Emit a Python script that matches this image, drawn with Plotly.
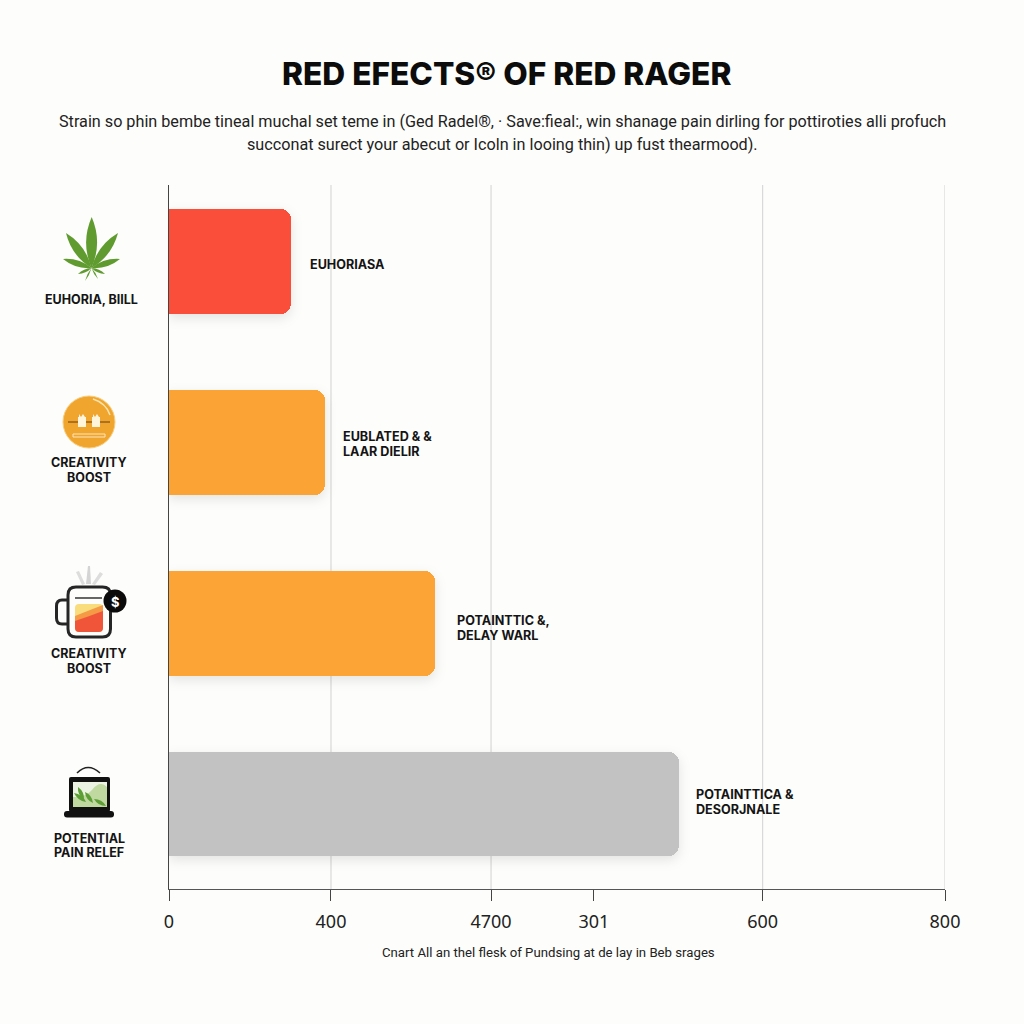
import plotly.graph_objects as go

# ---- data ----
row_labels = ["EUHORIASA", "EUBLATED &amp; &amp;<br>LAAR DIELIR", "POTAINTTIC &amp;,<br>DELAY WARL", "POTAINTTICA &amp;<br>DESORJNALE"]
bar_values = [125.5, 160.5, 274, 526]
bar_colors = ["#FA4E3B", "#FBA435", "#FCA436", "#C2C2C2"]
effect_lines = [["EUHORIA, BIILL"], ["CREATIVITY", "BOOST"], ["CREATIVITY", "BOOST"], ["POTENTIAL", "PAIN RELEF"]]
tick_positions = [0, 167, 332, 438, 612, 800]
tick_labels = ["0", "400", "4700", "301", "600", "800"]
grid_positions = [167, 332, 612, 800]
title_text = "RED EFECTS® OF RED RAGER"
subtitle_lines = [
    "Strain so phin bembe tineal muchal set teme in (Ged Radel®, · Save:fieal:, win shanage pain dirling for pottiroties alli profuch",
    "succonat surect your abecut or Icoln in looing thin) up fust thearmood).",
]
footer_text = "Cnart All an thel flesk of Pundsing at de lay in Beb srages"

W = 1024.0
def px(x): return x / W
def py(y): return 1 - y / W

BG = "#FDFDFB"
INK = "#141414"
shapes = []

def path(points_cmd, fill=None, line=None, lw=0, layer="above"):
    s = ""
    for tok in points_cmd:
        if isinstance(tok, str):
            s += tok + " "
        else:
            s += f"{px(tok[0]):.5f},{py(tok[1]):.5f} "
    shapes.append(dict(type="path", xref="paper", yref="paper", path=s.strip(),
                       fillcolor=fill if fill else "rgba(0,0,0,0)",
                       line=dict(color=line if line else "rgba(0,0,0,0)", width=lw), layer=layer))

def rect(x0, y0, x1, y1, fill=None, line=None, lw=0):
    shapes.append(dict(type="rect", xref="paper", yref="paper", x0=px(x0), x1=px(x1), y0=py(y0), y1=py(y1),
                       fillcolor=fill if fill else "rgba(0,0,0,0)",
                       line=dict(color=line if line else "rgba(0,0,0,0)", width=lw), layer="above"))

def circle(cx, cy, r, fill=None, line=None, lw=0):
    shapes.append(dict(type="circle", xref="paper", yref="paper", x0=px(cx - r), x1=px(cx + r), y0=py(cy - r), y1=py(cy + r),
                       fillcolor=fill if fill else "rgba(0,0,0,0)",
                       line=dict(color=line if line else "rgba(0,0,0,0)", width=lw), layer="above"))

def rrect_cmd(x0, y0, x1, y1, r):
    return ["M", (x0 + r, y0), "L", (x1 - r, y0), "Q", (x1, y0), (x1, y0 + r), "L", (x1, y1 - r),
            "Q", (x1, y1), (x1 - r, y1), "L", (x0 + r, y1), "Q", (x0, y1), (x0, y1 - r), "L", (x0, y0 + r),
            "Q", (x0, y0), (x0 + r, y0), "Z"]

def leaflet(bx, by, tx, ty, w, color="#5F9B2E"):
    mx, my = bx + (tx - bx) * 0.5, by + (ty - by) * 0.5
    dx, dy = tx - bx, ty - by
    ln = (dx * dx + dy * dy) ** 0.5
    nx, ny = -dy / ln * w, dx / ln * w
    path(["M", (bx, by), "Q", (mx + nx, my + ny), (tx, ty), "Q", (mx - nx, my - ny), (bx, by), "Z"], fill=color)

# leaf icon
b = (91.5, 268)
leaflet(b[0], b[1], 91.7, 217, 11)
leaflet(b[0], b[1], 66, 233, 9)
leaflet(b[0], b[1], 118, 233, 9)
leaflet(b[0], b[1], 63, 259, 6)
leaflet(b[0], b[1], 120, 259, 6)
leaflet(b[0], b[1], 78, 274, 3)
leaflet(b[0], b[1], 105, 274, 3)
leaflet(b[0], b[1], 85, 281, 1.6)
leaflet(b[0], b[1], 98, 279, 1.6)

# badge icon
circle(89, 422, 26, fill="#F0A52E", line="#F8CE7E", lw=1)
path(["M", (93, 399), "Q", (106, 403), (110, 415)], line="#FBE3B0", lw=1.5)
path(["M", (68, 422), "L", (110, 422)], line="#6B3A12", lw=1.2)
for cx in (82, 96):
    rect(cx - 4, 417, cx + 4, 427, fill="#FFF4DC")
    path(["M", (cx - 3, 417), "L", (cx - 3, 414), "L", (cx - 1, 417), "L", (cx + 1, 414), "L", (cx + 3, 417), "Z"], fill="#FFF4DC")
rect(73, 434, 105, 437, line="#FCE7BE", lw=1)

# mug icon
path(["M", (88, 566), "L", (90, 566), "L", (91, 584), "L", (86, 584), "Z"], fill="#D4D4D4")
path(["M", (76, 572), "L", (79, 571), "L", (85, 584), "L", (82, 585), "Z"], fill="#DDDDDD")
path(["M", (100, 572), "L", (103, 574), "L", (95, 585), "L", (92, 584), "Z"], fill="#DDDDDD")
path(rrect_cmd(75, 604, 103, 632, 4), fill="#F9DC7C")
path(["M", (75, 618), "Q", (90, 612), (103, 606), "L", (103, 628), "Q", (103, 632), (99, 632), "L", (79, 632), "Q", (75, 632), (75, 628), "Z"], fill="#F0553A")
path(["M", (75, 616), "Q", (90, 610), (103, 605), "L", (103, 611), "Q", (90, 616), (75, 621), "Z"], fill="#F59A45")
path(rrect_cmd(68, 587, 110.5, 637, 8), line="#262626", lw=3)
path(["M", (68, 600), "L", (62, 600), "Q", (56.5, 600), (56.5, 606), "L", (56.5, 618), "Q", (56.5, 624), (62, 624), "L", (68, 624)], line="#262626", lw=3)
path(["M", (75, 598), "L", (102, 598)], line="#333333", lw=1.5)
circle(115, 601, 11.5, fill="#0B0B0B")

# laptop icon
path(["M", (77, 773), "Q", (88, 762), (100, 773)], line="#222222", lw=1.6)
path(rrect_cmd(69, 777, 110, 812, 2), fill="#111111")
rect(73, 782, 107, 807, fill="#EDF3E2")
path(["M", (73, 807), "L", (73, 797), "Q", (85, 798), (92, 790), "Q", (100, 780), (107, 787), "L", (107, 807), "Z"], fill="#BFD9A0")
for a, c, d, e in [(74, 793, 86, 802), (78, 787, 84, 800), (85, 792, 93, 803), (94, 799, 106, 806)]:
    leaflet(a, c, d, e, 4, color="#5E9E36")
path(rrect_cmd(64, 811, 114, 817.5, 3), fill="#111111")

fig = go.Figure(go.Bar(
    x=bar_values, y=row_labels, orientation="h", width=0.58,
    marker=dict(color=bar_colors, cornerradius=10, line=dict(width=0)),
    hoverinfo="skip",
))

# gridlines
for g in grid_positions:
    shapes.insert(0, dict(type="line", xref="x", yref="paper", x0=g, x1=g, y0=py(889), y1=py(185),
                          line=dict(color="#D6D6D6", width=1.1), layer="below"))

annots = []
def text(x, y, s, size, color=INK, family="Inter", weight=400, anchor="center"):
    annots.append(dict(xref="paper", yref="paper", x=px(x), y=py(y), text=s, showarrow=False, xanchor=anchor, yanchor="middle",
                       font=dict(family=family, size=size, color=color, weight=weight), align="left" if anchor == "left" else "center"))

text(506, 73, title_text, 31.7, color="#0C0C0C", family="Inter", weight=800)
text(502, 121, subtitle_lines[0], 16.2, color="#222222", family="Roboto")
text(502, 144, subtitle_lines[1], 16.2, color="#222222", family="Roboto")
text(548, 952, footer_text, 13.2, color="#222222", family="Roboto")

effect_ys = [[299], [462, 477], [653, 668], [838, 852]]
effect_xs = [91, 89, 89, 89]
for lines, ys, x in zip(effect_lines, effect_ys, effect_xs):
    for s, y in zip(lines, ys):
        text(x, y, s, 12.5, family="Inter", weight=700)

text(115, 601.5, "$", 13, color="#FFFFFF", family="Inter", weight=700)

# value labels sit just to the right of each bar, one annotation per line
label_shift = [17, 16, 20, 15]
label_y = [264, 444, 628, 802]
for lab, v, sh, y in zip(row_labels, bar_values, label_shift, label_y):
    parts = lab.split("<br>")
    for i, part in enumerate(parts):
        yy = y + (i - (len(parts) - 1) / 2) * 14.5
        annots.append(dict(xref="x", yref="paper", x=v, xshift=sh, y=py(yy), text=part, showarrow=False,
                           xanchor="left", yanchor="middle", align="left",
                           font=dict(family="Inter", size=12.6, color=INK, weight=700)))

fig.update_layout(
    width=1024, height=1024, margin=dict(l=0, r=0, t=0, b=0, pad=0, autoexpand=False), autosize=False,
    paper_bgcolor=BG, plot_bgcolor=BG, showlegend=False, bargap=0,
    shapes=shapes, annotations=annots,
    xaxis=dict(domain=[px(169), px(945)], range=[0, 800], tickmode="array", tickvals=tick_positions, ticktext=tick_labels,
               showgrid=False, zeroline=False, showline=True, linecolor="#555555", linewidth=1,
               ticks="outside", ticklen=11, tickcolor="#444444", tickwidth=1, ticklabelstandoff=5,
               tickfont=dict(family="Noto Sans", size=18, color="#222222"), anchor="y"),
    yaxis=dict(domain=[py(889), py(185)], range=[3.47, -0.425], type="category", categoryorder="array", categoryarray=row_labels,
               showticklabels=False, showgrid=False, zeroline=False, showline=True, linecolor="#444444", linewidth=1, ticks=""),
)

post = """
document.body.style.margin='0';
document.querySelectorAll('.bars .point path').forEach(function(p){p.style.filter='drop-shadow(0 4px 6px rgba(0,0,0,0.10))';});
"""
fig.write_html("out.html", post_script=post, config={"displayModeBar": False})
